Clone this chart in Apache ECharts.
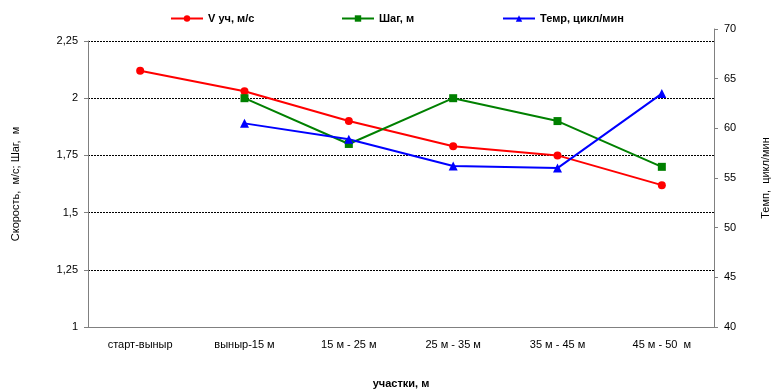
<!DOCTYPE html>
<html><head><meta charset="utf-8">
<script src="https://cdn.jsdelivr.net/npm/echarts@6/dist/echarts.min.js"></script>
<style>html,body{margin:0;padding:0;background:#fff}#c{width:774px;height:389px}</style>
</head><body><div id="c"></div>
<script>
const categories = ['старт-выныр','выныр-15 м','15 м - 25 м','25 м - 35 м','35 м - 45 м','45 м - 50  м'];
const speed = [2.12, 2.03, 1.90, 1.79, 1.75, 1.62];
const step = [null, 2.00, 1.80, 2.00, 1.90, 1.70];
const tempo = [null, 60.5, 58.9, 56.2, 56.0, 63.5];
const leftTicks = {min: 1, max: 2.25, interval: 0.25};
const rightTicks = {min: 40, max: 70, interval: 5};

const FONT = '"Liberation Sans", Arial, sans-serif';
const chart = echarts.init(document.getElementById('c'));
const axisGray = '#808080';
const legendCommon = (name, left) => ({
  data: [name], left: left, top: 8, itemWidth: 32, itemHeight: 8,
  textStyle: {fontFamily: FONT, fontSize: 11, fontWeight: 'bold', color: '#000'}
});
chart.setOption({
  animation: false,
  textStyle: {fontFamily: FONT},
  legend: [
    legendCommon('V уч, м/с', 165),
    legendCommon('Шаг, м', 336),
    legendCommon('Темр, цикл/мин', 497)
  ],
  grid: [
    {left: 88, right: 60, top: 41, bottom: 62, containLabel: false, outerBoundsMode: 'none'},
    {left: 88, right: 60, top: 29, bottom: 62, containLabel: false, outerBoundsMode: 'none'}
  ],
  xAxis: [
    {type: 'category', gridIndex: 0, data: categories, boundaryGap: true,
     axisLine: {lineStyle: {color: axisGray, width: 1}},
     axisTick: {length: 4, lineStyle: {color: axisGray}},
     axisLabel: {color: '#000', fontSize: 11, margin: 12},
     name: 'участки, м', nameLocation: 'middle', nameGap: 51,
     nameTextStyle: {color: '#000', fontSize: 11, fontWeight: 'bold'}},
    {type: 'category', gridIndex: 1, data: categories, show: false}
  ],
  yAxis: [
    {type: 'value', gridIndex: 0, min: leftTicks.min, max: leftTicks.max, interval: leftTicks.interval,
     axisLine: {show: true, lineStyle: {color: axisGray}},
     axisTick: {show: true, length: 4, lineStyle: {color: axisGray}},
     axisLabel: {color: '#000', fontSize: 11, margin: 10,
       formatter: v => String(Math.round(v*100)/100).replace('.', ',')},
     splitLine: {show: true, lineStyle: {color: '#000', type: [2, 1], width: 1}},
     name: 'Скорость,  м/с; Шаг,  м', nameLocation: 'middle', nameGap: 67,
     nameTextStyle: {color: '#000', fontSize: 11}},
    {type: 'value', gridIndex: 1, position: 'right', min: rightTicks.min, max: rightTicks.max, interval: rightTicks.interval,
     axisLine: {show: true, lineStyle: {color: axisGray}},
     axisTick: {show: true, length: 4, lineStyle: {color: axisGray}},
     axisLabel: {color: '#000', fontSize: 11, margin: 10},
     splitLine: {show: false},
     name: 'Темп,  цикл/мин', nameLocation: 'middle', nameGap: 46,
     nameTextStyle: {color: '#000', fontSize: 11}}
  ],
  series: [
    {name: 'V уч, м/с', type: 'line', xAxisIndex: 0, yAxisIndex: 0, data: speed,
     symbol: 'circle', symbolSize: 8, color: '#ff0000', lineStyle: {width: 2}},
    {name: 'Шаг, м', type: 'line', xAxisIndex: 0, yAxisIndex: 0, data: step,
     symbol: 'rect', symbolSize: 8, color: '#008000', lineStyle: {width: 2}},
    {name: 'Темр, цикл/мин', type: 'line', xAxisIndex: 1, yAxisIndex: 1, data: tempo,
     symbol: 'triangle', symbolSize: 9, color: '#0000ff', lineStyle: {width: 2}}
  ]
});
</script></body></html>
